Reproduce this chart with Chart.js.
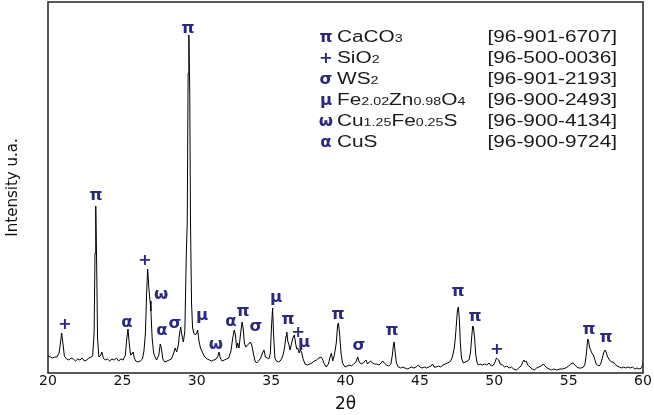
<!DOCTYPE html>
<html>
<head>
<meta charset="utf-8">
<script src="https://cdn.jsdelivr.net/npm/chart.js@4/dist/chart.umd.min.js"></script>
<style>
  body { margin: 0; background: #fff; }
  #xrd { display: block; }
</style>
</head>
<body>
<canvas id="xrd" width="654" height="415"></canvas>
<script>
// diffractogram: 2theta (deg) and intensity (a.u.)
var twoTheta = [
  20.00, 20.15, 20.30, 20.45, 20.60, 20.75, 20.85, 20.92, 21.00, 21.10,
  21.25, 21.40, 21.55, 21.70, 21.85, 22.00, 22.15, 22.30, 22.45, 22.60,
  22.75, 22.90, 23.00, 23.10, 23.16, 23.21, 23.27, 23.33, 23.42, 23.55,
  23.62, 23.72, 23.85, 24.00, 24.15, 24.30, 24.45, 24.60, 24.75, 24.90,
  25.05, 25.20, 25.30, 25.38, 25.46, 25.55, 25.65, 25.72, 25.80, 25.90,
  26.05, 26.20, 26.35, 26.45, 26.55, 26.63, 26.70, 26.78, 26.86, 26.92,
  27.00, 27.10, 27.20, 27.30, 27.45, 27.55, 27.62, 27.72, 27.85, 28.00,
  28.15, 28.30, 28.45, 28.55, 28.65, 28.75, 28.85, 28.92, 29.00, 29.10,
  29.20, 29.30, 29.36, 29.42, 29.47, 29.53, 29.58, 29.65, 29.72, 29.80,
  29.90, 30.00, 30.06, 30.15, 30.25, 30.40, 30.55, 30.70, 30.85, 31.00,
  31.15, 31.30, 31.40, 31.50, 31.58, 31.70, 31.85, 32.00, 32.15, 32.30,
  32.42, 32.52, 32.60, 32.68, 32.75, 32.84, 32.95, 33.05, 33.12, 33.20,
  33.30, 33.40, 33.50, 33.60, 33.70, 33.80, 33.92, 34.03, 34.15, 34.30,
  34.42, 34.52, 34.62, 34.75, 34.85, 34.95, 35.02, 35.10, 35.16, 35.25,
  35.35, 35.50, 35.60, 35.70, 35.80, 35.90, 36.00, 36.05, 36.12, 36.20,
  36.27, 36.38, 36.48, 36.56, 36.64, 36.72, 36.79, 36.88, 36.96, 37.05,
  37.15, 37.28, 37.45, 37.60, 37.75, 37.90, 38.05, 38.20, 38.35, 38.45,
  38.55, 38.70, 38.85, 38.95, 39.05, 39.14, 39.25, 39.38, 39.47, 39.52,
  39.60, 39.70, 39.80, 39.97, 40.10, 40.25, 40.40, 40.55, 40.70, 40.82,
  40.92, 41.05, 41.20, 41.30, 41.38, 41.48, 41.60, 41.70, 41.80, 41.95,
  42.10, 42.25, 42.40, 42.50, 42.60, 42.75, 42.90, 43.05, 43.15, 43.22,
  43.27, 43.33, 43.42, 43.55, 43.70, 43.85, 44.00, 44.15, 44.30, 44.45,
  44.60, 44.75, 44.90, 45.00, 45.15, 45.30, 45.45, 45.60, 45.75, 45.86,
  45.95, 46.10, 46.25, 46.40, 46.55, 46.70, 46.85, 47.00, 47.10, 47.20,
  47.30, 47.38, 47.45, 47.52, 47.58, 47.65, 47.72, 47.80, 47.92, 48.05,
  48.20, 48.30, 48.40, 48.48, 48.55, 48.60, 48.68, 48.76, 48.85, 48.93,
  49.05, 49.20, 49.35, 49.50, 49.65, 49.80, 49.95, 50.05, 50.15, 50.22,
  50.30, 50.40, 50.55, 50.70, 50.85, 51.00, 51.15, 51.30, 51.50, 51.65,
  51.80, 51.92, 52.00, 52.08, 52.15, 52.25, 52.40, 52.55, 52.70, 52.85,
  53.00, 53.15, 53.30, 53.42, 53.55, 53.70, 53.85, 54.00, 54.20, 54.40,
  54.60, 54.80, 55.00, 55.15, 55.30, 55.42, 55.55, 55.70, 55.85, 56.00,
  56.10, 56.20, 56.28, 56.33, 56.40, 56.50, 56.60, 56.66, 56.75, 56.85,
  56.95, 57.05, 57.15, 57.25, 57.35, 57.45, 57.52, 57.60, 57.70, 57.80,
  57.90, 58.00, 58.10, 58.25, 58.40, 58.57, 58.70, 58.85, 59.00, 59.15,
  59.30, 59.45, 59.60, 59.75, 59.90, 59.97, 60.00
];
var counts = [
  17, 16, 15, 16, 16, 20, 32, 40, 30, 17,
  14, 13, 15, 14, 12, 14, 13, 15, 12, 13,
  15, 16, 17, 40, 120, 167, 110, 35, 16, 18,
  21, 15, 13, 14, 12, 14, 13, 15, 12, 14,
  13, 18, 35, 44, 30, 18, 19, 21, 15, 12,
  11, 12, 14, 22, 40, 80, 104, 85, 72, 62,
  35, 20, 16, 13, 18, 29, 25, 14, 11, 12,
  13, 14, 20, 25, 21, 27, 40, 46, 38, 31,
  42, 120, 150, 300, 338, 280, 150, 70, 45, 40,
  38, 40, 43, 32, 25, 20, 16, 14, 13, 12,
  13, 14, 16, 21, 15, 12, 13, 14, 15, 22,
  35, 43, 38, 25, 30, 25, 40, 51, 45, 30,
  26, 28, 29, 31, 28, 20, 12, 10, 12, 15,
  20, 23, 16, 15, 14, 20, 45, 65, 40, 15,
  12, 11, 12, 14, 18, 25, 37, 41, 32, 28,
  23, 30, 36, 38, 30, 24, 25, 20, 23, 21,
  14, 9, 8, 9, 10, 12, 13, 15, 16, 14,
  10, 6, 9, 15, 20, 12, 18, 30, 48, 50,
  40, 20, 10, 6, 7, 8, 7, 9, 11, 16,
  11, 9, 10, 12, 13, 9, 11, 12, 10, 9,
  9, 8, 10, 12, 10, 8, 7, 9, 18, 28,
  31, 22, 10, 6, 5, 6, 5, 4, 5, 6,
  5, 6, 8, 6, 5, 6, 5, 6, 7, 9,
  6, 6, 7, 6, 8, 9, 10, 11, 13, 17,
  24, 34, 48, 62, 66, 55, 30, 15, 10, 11,
  12, 13, 20, 35, 47, 46, 35, 18, 10, 8,
  9, 8, 9, 8, 10, 7, 8, 11, 15, 14,
  13, 9, 8, 6, 7, 5, 6, 4, 3, 5,
  7, 11, 13, 11, 12, 8, 6, 4, 3, 5,
  6, 7, 9, 7, 5, 4, 3, 4, 3, 4,
  4, 5, 7, 9, 10, 8, 6, 5, 5, 6,
  9, 20, 34, 33, 26, 22, 19, 18, 14, 9,
  8, 7, 9, 14, 20, 23, 21, 17, 14, 12,
  11, 11, 9, 7, 6, 5, 6, 5, 6, 5,
  6, 4, 5, 4, 5, 8, 11
];

// phase markers above the peaks (symbol, 2theta, label height)
var markSymbols = ['+', 'π', 'α', '+', 'ω', 'α', 'σ', 'π', 'μ', 'ω', 'α', 'π', 'σ',
                   'μ', 'π', '+', 'μ', 'π', 'σ', 'π', 'π', 'π', '+', 'π', 'π'];
var markAt = [21.14, 23.23, 25.31, 26.52, 27.60, 27.66, 28.54, 29.41, 30.35, 31.29, 32.30, 33.11, 33.98,
              35.33, 36.13, 36.81, 37.21, 39.50, 40.91, 43.13, 47.56, 48.71, 50.18, 56.37, 57.51];
var markLevel = [48, 177, 50, 112, 78, 42, 49, 344, 57, 28, 51, 61, 46,
                 75, 53, 40, 30, 58, 27, 42, 81, 56, 23, 43, 35];

// key: phases and their card numbers
var phaseSymbols = ['π', '+', 'σ', 'μ', 'ω', 'α'];
var phaseNames = ['CaCO_3', 'SiO_2', 'WS_2', 'Fe_2.02Zn_0.98O_4', 'Cu_1.25Fe_0.25S', 'CuS'];
var phaseCodes = ['[96-901-6707]', '[96-500-0036]', '[96-901-2193]', '[96-900-2493]', '[96-900-4134]', '[96-900-9724]'];

var navy = 'rgb(44,42,128)';
var stretch = 1.3;
var symbolFont = 'bold 15px "DejaVu Sans", sans-serif';

function wideText(ctx, str, x, y, sx) {
  ctx.save();
  ctx.translate(x, y);
  ctx.scale(sx, 1);
  ctx.fillText(str, 0, 0);
  ctx.restore();
  return ctx.measureText(str).width * sx;
}

// name with subscripts written as _2.02
function drawFormula(ctx, name, x, y) {
  var parts = name.split(/_([\d.]+)/);
  ctx.textAlign = 'left';
  parts.forEach((p, i) => {
    if (!p) return;
    if (i % 2) {
      ctx.font = '11px "Liberation Sans", Arial, sans-serif';
      x += wideText(ctx, p, x, y + 1, stretch);
    } else {
      ctx.font = '16px "Liberation Sans", Arial, sans-serif';
      x += wideText(ctx, p, x, y, stretch);
    }
  });
}

var framePlugin = {
  id: 'frame',
  afterDraw(chart) {
    var a = chart.chartArea, ctx = chart.ctx;
    ctx.save();
    ctx.strokeStyle = '#222';
    ctx.lineWidth = 1.5;
    ctx.strokeRect(a.left, a.top, a.right - a.left, a.bottom - a.top);
    ctx.restore();
  }
};

var marksPlugin = {
  id: 'marks',
  afterDatasetsDraw(chart) {
    var ctx = chart.ctx, sx = chart.scales.x, sy = chart.scales.y;
    ctx.save();
    ctx.fillStyle = navy;
    ctx.font = symbolFont;
    ctx.textAlign = 'center';
    ctx.textBaseline = 'middle';
    markSymbols.forEach((s, i) => {
      wideText(ctx, s, sx.getPixelForValue(markAt[i]), sy.getPixelForValue(markLevel[i]), 1.1);
    });
    ctx.restore();
  }
};

var keyPlugin = {
  id: 'key',
  afterDraw(chart) {
    var ctx = chart.ctx;
    ctx.save();
    ctx.textBaseline = 'middle';
    phaseSymbols.forEach((s, i) => {
      var y = 38 + i * 21;
      ctx.fillStyle = navy;
      ctx.font = symbolFont;
      ctx.textAlign = 'center';
      wideText(ctx, s, 326, y, 1.1);
      ctx.fillStyle = '#1a1a1a';
      drawFormula(ctx, phaseNames[i], 337, y);
      ctx.font = '16px "Liberation Sans", Arial, sans-serif';
      ctx.textAlign = 'right';
      wideText(ctx, phaseCodes[i], 617, y, stretch);
    });
    ctx.restore();
  }
};

var ctx = document.getElementById('xrd').getContext('2d');
var chart = new Chart(ctx, {
  type: 'line',
  data: {
    datasets: [{
      data: twoTheta.map((t, i) => ({ x: t, y: counts[i] })),
      borderColor: '#000',
      borderWidth: 1,
      pointRadius: 0,
      tension: 0
    }]
  },
  options: {
    responsive: false,
    animation: false,
    layout: { padding: { top: 2, right: 11, left: 0, bottom: 0 } },
    plugins: { legend: { display: false }, tooltip: { enabled: false } },
    scales: {
      x: {
        type: 'linear', min: 20, max: 60,
        ticks: { stepSize: 5, padding: 0, color: '#111', font: { family: 'DejaVu Sans', size: 14 } },
        grid: { display: false, drawTicks: false },
        border: { display: false },
        title: { display: true, text: '2θ', color: '#111', padding: { top: 0, bottom: 0 },
                 font: { family: 'DejaVu Sans', size: 17 } },
        afterFit: s => { s.height = 42; }
      },
      y: {
        min: 0, max: 371,
        ticks: { display: false },
        grid: { display: false, drawTicks: false },
        border: { display: false },
        title: { display: true, text: 'Intensity u.a.', color: '#111', padding: { top: 4, bottom: 4 },
                 font: { family: 'DejaVu Sans', size: 15 } },
        afterFit: s => { s.width = 48; }
      }
    }
  },
  plugins: [framePlugin, marksPlugin, keyPlugin]
});
</script>
</body>
</html>
